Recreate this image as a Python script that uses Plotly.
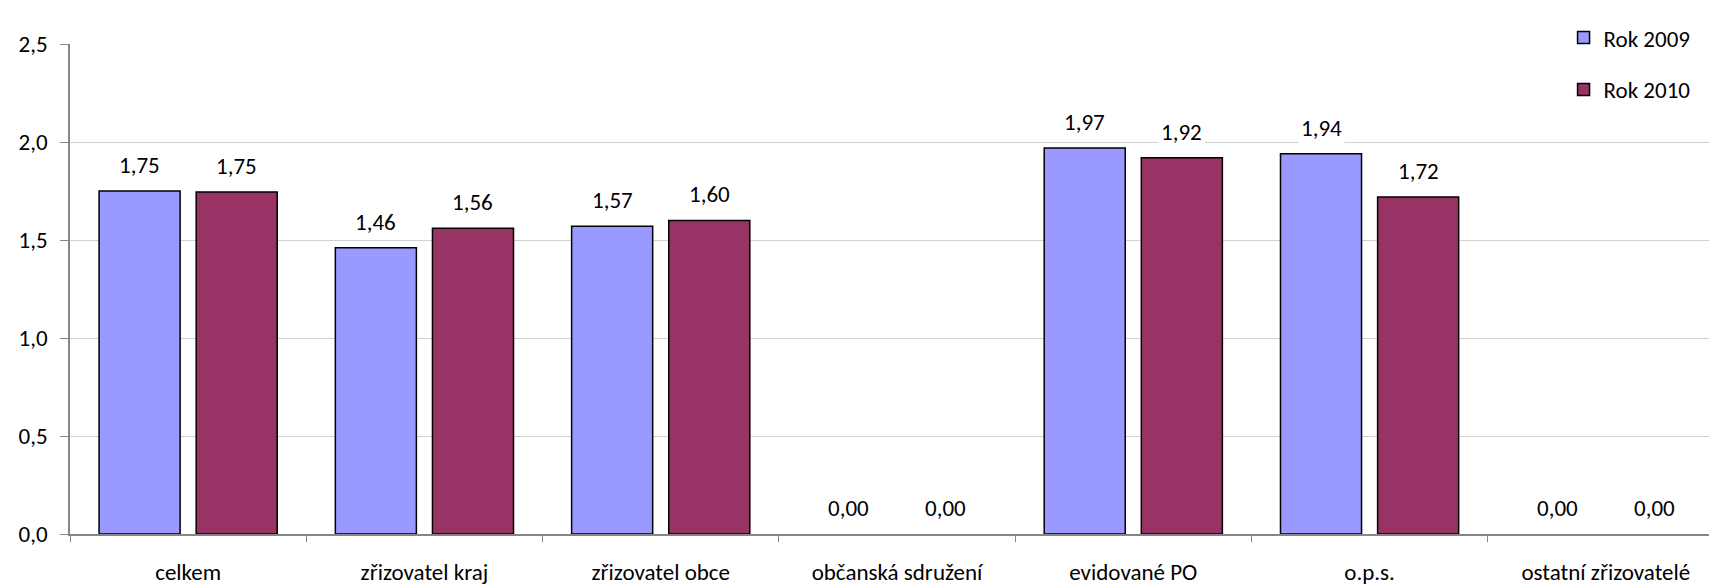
import plotly.graph_objects as go

categories = ["celkem", "zřizovatel kraj", "zřizovatel obce", "občanská sdružení",
              "evidované PO", "o.p.s.", "ostatní zřizovatelé"]
series_names = ["Rok 2009", "Rok 2010"]
values_2009 = [1.75, 1.46, 1.57, 0.00, 1.97, 1.94, 0.00]
values_2010 = [1.745, 1.56, 1.60, 0.00, 1.92, 1.72, 0.00]
y_ticks = [0.0, 0.5, 1.0, 1.5, 2.0, 2.5]
y_tick_labels = ["0,0", "0,5", "1,0", "1,5", "2,0", "2,5"]

FONT = "Carlito, Lato, sans-serif"
FS = 23
colors = ["#9999FF", "#993366"]
bar_width = 0.343
offsets = [-0.377, 0.034]

def fmt(v):
    return f"{v:.2f}".replace(".", ",")

fig = go.Figure()
annotations = []
for name, vals, col, off in zip(series_names, [values_2009, values_2010], colors, offsets):
    fig.add_trace(go.Bar(
        x=categories, y=vals, name=name, legendgroup=name,
        width=bar_width, offset=off,
        marker=dict(color=col,
                    line=dict(color="#000000", width=[0 if v == 0 else 1.5 for v in vals])),
    ))
    for i, v in enumerate(vals):
        annotations.append(dict(
            x=i + off + bar_width / 2, y=v, xref="x", yref="y",
            text=fmt(v), showarrow=False, yanchor="bottom", yshift=9,
            bgcolor="white", borderpad=2,
            font=dict(family=FONT, size=FS, color="#000000"),
        ))

fig.update_layout(
    width=1717, height=587,
    margin=dict(l=62, r=1, t=36, b=61),
    barmode="overlay",
    plot_bgcolor="white", paper_bgcolor="white",
    font=dict(family=FONT, size=FS, color="#000000"),
    annotations=annotations,
    showlegend=True,
    legend=dict(
        x=0.903, y=1.057, xanchor="left", yanchor="top",
        bgcolor="white", tracegroupgap=19,
        font=dict(family=FONT, size=FS, color="#000000"),
        itemwidth=30,
    ),
)
fig.update_xaxes(
    type="category", tickson="boundaries", ticks="outside", ticklen=6,
    tickcolor="#868686", showline=True, linecolor="#868686", linewidth=1.5,
    showgrid=False, range=[-0.5, len(categories) - 0.5],
    tickfont=dict(family=FONT, size=FS), ticklabelstandoff=17,
)
fig.update_yaxes(
    range=[0, 2.5], tickvals=y_ticks, ticktext=y_tick_labels,
    ticks="outside", ticklen=8, tickcolor="#868686",
    showline=True, linecolor="#868686", linewidth=1.5,
    showgrid=True, gridcolor="#D0D0D0", gridwidth=1, zeroline=False,
    tickfont=dict(family=FONT, size=FS), ticklabelstandoff=8,
)

fig.write_html("out.html")
